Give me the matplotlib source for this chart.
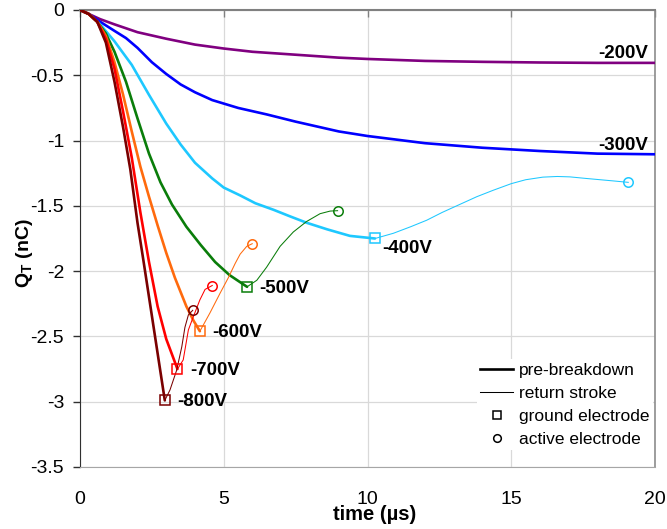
import matplotlib
matplotlib.use('Agg')
import matplotlib.pyplot as plt
from matplotlib.lines import Line2D

plt.rcParams['font.family'] = ['Liberation Sans', 'DejaVu Sans']
plt.rcParams['mathtext.fontset'] = 'custom'
plt.rcParams['mathtext.rm'] = 'Liberation Sans'
plt.rcParams['mathtext.bf'] = 'Liberation Sans:bold'

### Charge curves, time in us, charge in nC
# pre-breakdown phase for each applied voltage
t200 = [0, 0.3, 0.7, 1.2, 2, 3, 4, 5, 6, 7, 8, 9, 10, 12, 14, 16, 18, 20]
q200 = [0, -0.03, -0.07, -0.11, -0.17, -0.22, -0.265, -0.295, -0.32, -0.335,
        -0.35, -0.365, -0.375, -0.39, -0.397, -0.402, -0.405, -0.405]

t300 = [0, 0.3, 0.7, 1.2, 1.6, 2, 2.5, 3, 3.5, 4, 4.6, 5.5, 6.5, 7.5, 9, 10,
        12, 14, 16, 18, 20]
q300 = [0, -0.03, -0.09, -0.16, -0.215, -0.29, -0.40, -0.49, -0.57, -0.63,
        -0.69, -0.75, -0.80, -0.855, -0.93, -0.965, -1.02, -1.055, -1.08,
        -1.10, -1.105]

t400 = [0, 0.3, 0.7, 1.2, 1.8, 2.4, 3, 3.5, 4, 4.6, 5.0, 5.57, 6.1, 6.73, 7.3,
        7.89, 8.6, 9.39, 10.26]
q400 = [0, -0.03, -0.11, -0.24, -0.42, -0.65, -0.87, -1.03, -1.17, -1.29,
        -1.36, -1.42, -1.48, -1.53, -1.58, -1.63, -1.68, -1.73, -1.75]

t500 = [0, 0.3, 0.6, 0.9, 1.2, 1.6, 2, 2.4, 2.8, 3.2, 3.7, 4.2, 4.7, 5.2, 5.81]
q500 = [0, -0.03, -0.09, -0.18, -0.32, -0.55, -0.83, -1.10, -1.32, -1.49,
        -1.66, -1.80, -1.93, -2.03, -2.12]

t600 = [0, 0.3, 0.6, 0.9, 1.2, 1.5, 1.8, 2.1, 2.4, 2.7, 3.0, 3.3, 3.7, 3.95,
        4.17]
q600 = [0, -0.03, -0.09, -0.2, -0.40, -0.65, -0.93, -1.20, -1.43, -1.65,
        -1.86, -2.05, -2.27, -2.38, -2.46]

t700 = [0, 0.3, 0.6, 0.9, 1.2, 1.5, 1.8, 2.1, 2.4, 2.7, 3.0, 3.39]
q700 = [0, -0.03, -0.09, -0.22, -0.45, -0.78, -1.13, -1.55, -1.93, -2.27,
        -2.52, -2.75]

t800 = [0, 0.3, 0.6, 0.9, 1.2, 1.5, 1.75, 2.0, 2.2, 2.45, 2.7, 2.95]
q800 = [0, -0.03, -0.09, -0.25, -0.55, -0.90, -1.22, -1.63, -1.91, -2.27,
        -2.63, -2.99]

# return stroke, from ground electrode peak to active electrode peak
r400_t = [10.26, 10.9, 11.5, 12.06, 12.6, 13.2, 13.8, 14.38, 15.0, 15.5, 16.1,
          16.6, 17.04, 17.6, 18.1, 18.6, 19.07]
r400_q = [-1.75, -1.71, -1.66, -1.61, -1.55, -1.49, -1.43, -1.38, -1.33, -1.30,
          -1.28, -1.275, -1.278, -1.29, -1.30, -1.31, -1.32]

r500_t = [5.81, 6.15, 6.49, 6.96, 7.42, 7.88, 8.35, 8.7, 8.96]
r500_q = [-2.12, -2.07, -1.97, -1.81, -1.70, -1.62, -1.56, -1.54, -1.537]

r600_t = [4.17, 4.52, 4.87, 5.16, 5.4, 5.57, 5.8, 5.99]
r600_q = [-2.46, -2.32, -2.17, -2.05, -1.94, -1.87, -1.81, -1.79]

r700_t = [3.39, 3.59, 3.77, 3.94, 4.17, 4.35, 4.6]
r700_q = [-2.75, -2.68, -2.45, -2.35, -2.22, -2.14, -2.11]

r800_t = [2.95, 3.13, 3.36, 3.54, 3.65, 3.77, 3.92]
r800_q = [-2.99, -2.91, -2.76, -2.58, -2.43, -2.335, -2.30]

labels = ['-200V', '-300V', '-400V', '-500V', '-600V', '-700V', '-800V']
colors = ['#800080', '#0000ff', '#1ec8ff', '#0a7d0a', '#ff6a0d', '#ff0000',
          '#7a0000']

pre = [(t200, q200), (t300, q300), (t400, q400), (t500, q500), (t600, q600),
       (t700, q700), (t800, q800)]
ret = [None, None, (r400_t, r400_q), (r500_t, r500_q), (r600_t, r600_q),
       (r700_t, r700_q), (r800_t, r800_q)]


fig = plt.figure(figsize=(6.67, 5.29), dpi=100)
ax = fig.add_axes([80 / 667, 62 / 529, 575 / 667, 457 / 529])

for ii in range(len(labels)):
  t, q = pre[ii]
  ax.plot(t, q, color=colors[ii], lw=1.9, zorder=3, solid_capstyle='round')
  if ret[ii] is None:
    ### label at the end of the flat curves
    ax.annotate(labels[ii], (t[-1], q[-1]), xytext=(-5, 6.5),
      textcoords='offset points', ha='right', va='center',
      fontsize=13.5, fontweight='bold')
    continue
  rt, rq = ret[ii]
  ax.plot(rt, rq, color=colors[ii], lw=0.75, zorder=3)
  ax.plot(rt[0], rq[0], 's', ms=7.2, mfc='none', mec=colors[ii], mew=1.1,
    zorder=4)
  ax.plot(rt[-1], rq[-1], 'o', ms=6.8, mfc='none', mec=colors[ii], mew=1.1,
    zorder=4)
  if labels[ii] == '-400V':
    off = (5, -7.5)
  else:
    off = (9, -1)
  ax.annotate(labels[ii], (rt[0], rq[0]), xytext=off,
    textcoords='offset points', ha='left', va='center',
    fontsize=13.5, fontweight='bold')

ax.set_xlim(0, 20)
ax.set_ylim(-3.5, 0)
ax.set_xticks([0, 5, 10, 15, 20])
ax.set_yticks([0, -0.5, -1, -1.5, -2, -2.5, -3, -3.5])
ax.set_yticklabels(['0', '-0.5', '-1', '-1.5', '-2', '-2.5', '-3', '-3.5'])
ax.grid(True, color='#d9d9d9', lw=0.9, zorder=0)
ax.set_axisbelow(True)

ax.tick_params(axis='x', bottom=False, top=True, labelbottom=True,
  labeltop=False, direction='in', length=5, color='#808080', width=1,
  labelsize=14, pad=17)
ax.tick_params(axis='y', left=True, direction='out', length=5,
  color='#303030', width=1, labelsize=14, pad=6.5)

ax.spines['top'].set_color('#808080')
ax.spines['top'].set_linewidth(1.5)
ax.spines['right'].set_color('#8c8c8c')
ax.spines['right'].set_linewidth(1.2)
ax.spines['bottom'].set_color('#a6a6a6')
ax.spines['left'].set_color('#303030')

ax.set_xlabel('time (µs)', fontsize=14.5, fontweight='bold')
ax.xaxis.set_label_coords(0.513, -0.084)
ax.set_ylabel(r'Q$_\mathbf{T}$ (nC)', fontsize=14, fontweight='bold')
ax.yaxis.set_label_coords(-0.078, 0.468)

### Legend
handles = [Line2D([], [], color='k', lw=1.9),
           Line2D([], [], color='k', lw=0.75),
           Line2D([], [], ls='none', marker='s', ms=6, mfc='none', mec='k',
             mew=1.1),
           Line2D([], [], ls='none', marker='o', ms=5.5, mfc='none', mec='k',
             mew=1.1)]
names = ['pre-breakdown', 'return stroke', 'ground electrode',
         'active electrode']
leg = ax.legend(handles, names, loc='upper left',
  bbox_to_anchor=(0.69, 0.236), frameon=True, fontsize=12.5,
  handlelength=1.9, handletextpad=0.35, labelspacing=0.45, borderpad=0.2,
  borderaxespad=0)
leg.get_frame().set_facecolor('white')
leg.get_frame().set_edgecolor('none')
leg.get_frame().set_alpha(1)

plt.savefig('out.png', dpi=100)
